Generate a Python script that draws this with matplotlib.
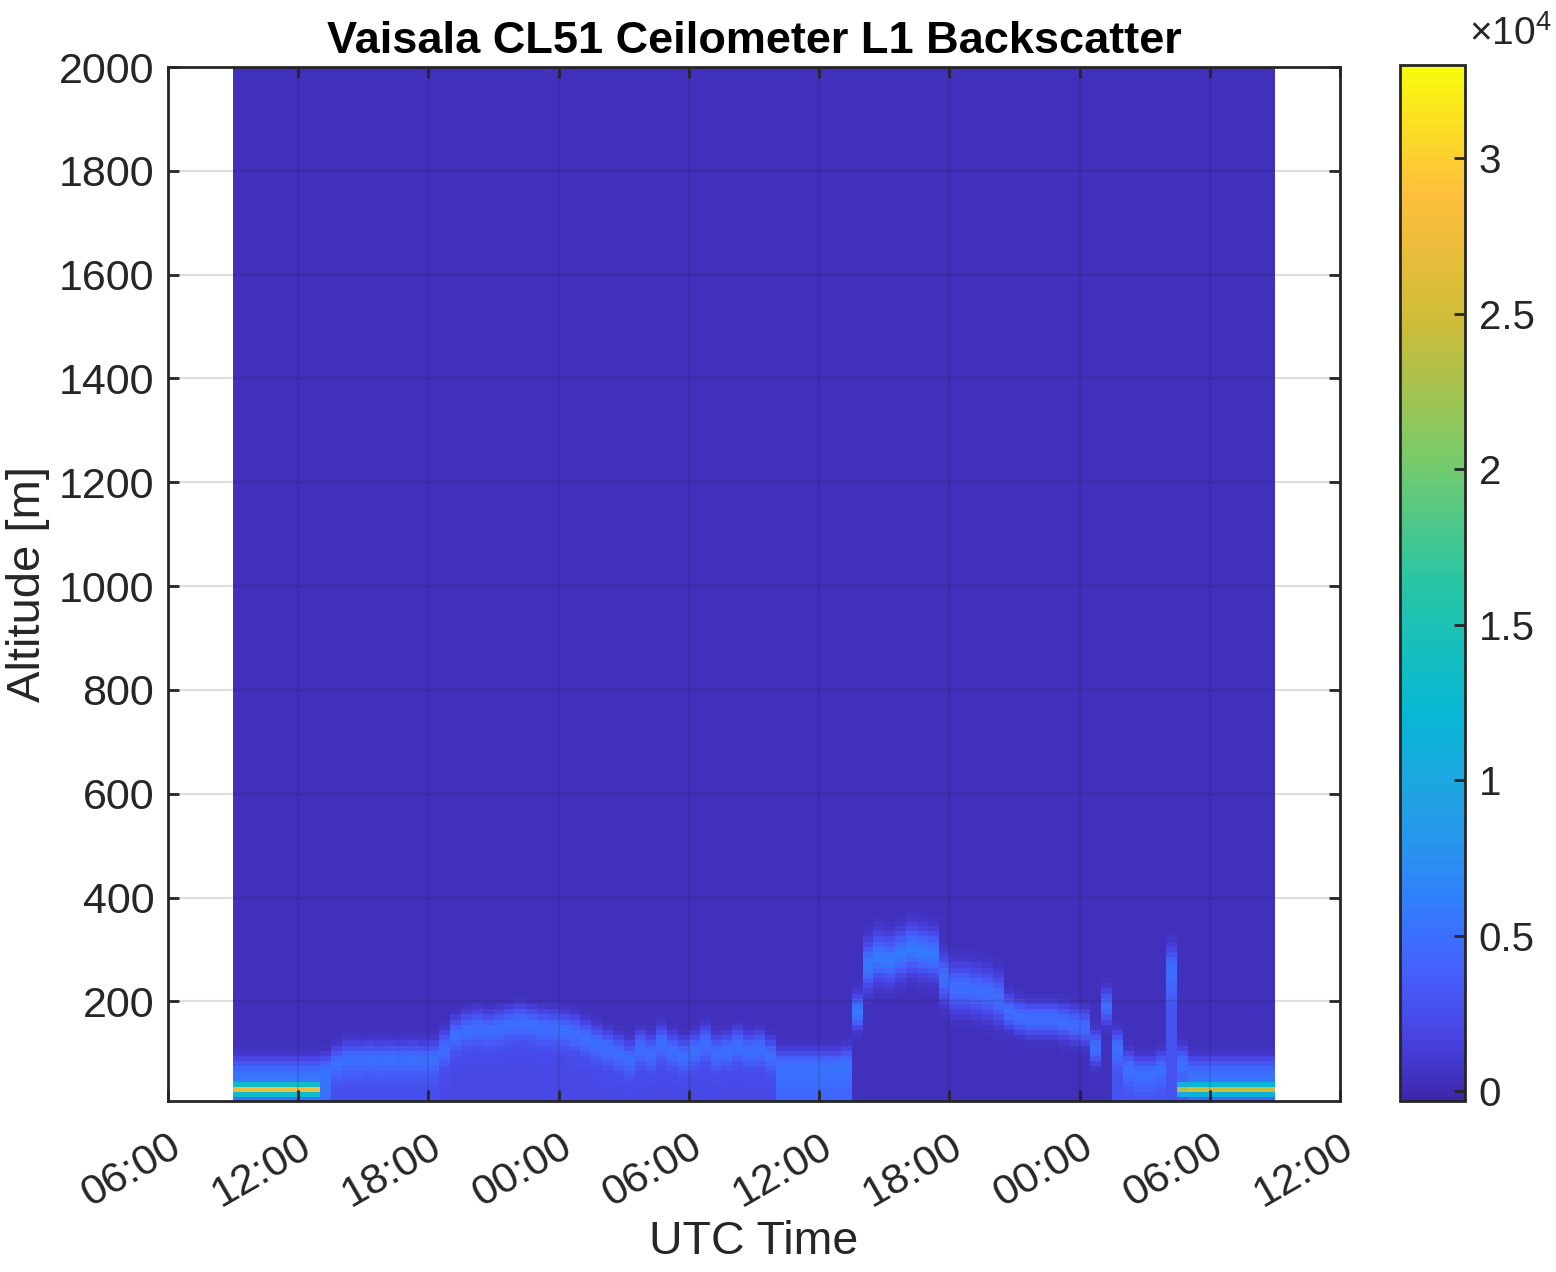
import numpy as np
import matplotlib
matplotlib.use("Agg")
import matplotlib.pyplot as plt
from matplotlib.colors import LinearSegmentedColormap

plt.rcParams['font.family'] = ['Liberation Sans', 'DejaVu Sans']
plt.rcParams['mathtext.fontset'] = 'custom'
plt.rcParams['mathtext.rm'] = 'Liberation Sans'

# --- data ---
# half-hour columns starting 09:00 on day 1 (hours since 06:00 day 1 = 3)
t_start = 3.0
t_step = 0.5

# height of the aerosol / boundary layer (m), one value per column
layer_h = [60, 60, 60, 60, 60, 60, 60, 60, 65, 80,
           88, 88, 90, 88, 90, 88, 90, 88, 90, 110,
           135, 145, 150, 145, 150, 155, 160, 155, 150, 148,
           145, 140, 130, 120, 110, 100, 90, 110, 100, 120,
           105, 95, 105, 120, 100, 105, 115, 105, 110, 95,
           75, 75, 75, 75, 75, 75, 80, 180, 270, 285,
           280, 290, 300, 295, 290, 245, 225, 225, 220, 215,
           205, 180, 170, 165, 165, 165, 160, 155, 150, 110,
           190, 110, 70, 60, 60, 70, 260, 80, 60, 60,
           60, 60, 60, 60, 60, 60]
# backscatter strength of the layer
layer_amp = [4500] * 57 + [5500] * 8 + [4500] * 31
# backscatter below the layer
below_amp = [4500] * 9 + [2200] * 10 + [1800] * 31 + [4000] * 7 + [0] * 24 + [2500] * 7 + [3500] * 8
# strong near-surface return (~30 m)
surf_amp = [22000] * 8 + [0] * 79 + [20000] * 9
background = 350

xtick_labels = ['06:00', '12:00', '18:00', '00:00', '06:00', '12:00', '18:00', '00:00', '06:00', '12:00']
ytick_vals = [200, 400, 600, 800, 1000, 1200, 1400, 1600, 1800, 2000]
cbar_ticks = [0, 5000, 10000, 15000, 20000, 25000, 30000]

# parula-like colormap
parula = LinearSegmentedColormap.from_list('parula', [
    (0.000, (0.2422, 0.1504, 0.6603)),
    (0.060, (0.2795, 0.2620, 0.8870)),
    (0.125, (0.2706, 0.3781, 0.9887)),
    (0.190, (0.1947, 0.4890, 0.9923)),
    (0.250, (0.1540, 0.5902, 0.9218)),
    (0.310, (0.1157, 0.6535, 0.8807)),
    (0.375, (0.0265, 0.7221, 0.8311)),
    (0.500, (0.1540, 0.7733, 0.6480)),
    (0.625, (0.4850, 0.7946, 0.4080)),
    (0.750, (0.8036, 0.7387, 0.2222)),
    (0.875, (0.9956, 0.7445, 0.2384)),
    (1.000, (0.9763, 0.9831, 0.0538)),
])

# build the 2-D field from the series
h = np.array(layer_h, float)
la = np.array(layer_amp, float)
ba = np.array(below_amp, float)
sa = np.array(surf_amp, float)
n = len(h)
z = np.arange(10, 2001, 10)[:, None]
t_edges = t_start + np.arange(n + 1) * t_step
z_edges = np.arange(5, 2006, 10)
w = np.where(h > 200, 28.0, 20.0)
field = (background
         + la * np.exp(-0.5 * ((z - h) / w) ** 2)
         + ba / (1 + np.exp((z - (h - w)) / 8.0))
         + sa * np.exp(-0.5 * ((z - 30) / 7.0) ** 2))

txt = '#262626'
fig = plt.figure(figsize=(15.56, 12.72), dpi=100)
ax = fig.add_axes([0.108, 0.1344, 0.7532, 0.8129])
cax = fig.add_axes([0.8997, 0.1344, 0.0418, 0.8145])

mesh = ax.pcolormesh(t_edges, z_edges, field, cmap=parula, vmin=-320, vmax=33000, shading='flat')
ax.set_xlim(0, 54)
ax.set_ylim(8, 2000)
ax.set_xticks(np.arange(0, 55, 6))
ax.set_xticklabels(xtick_labels, rotation=30, ha='right', rotation_mode='anchor')
ax.set_yticks(ytick_vals)
ax.set_axisbelow(False)
ax.grid(True, color=txt, alpha=0.15, linewidth=1.5)
ax.tick_params(direction='in', length=8, width=2, top=True, right=True,
               labelsize=31, colors=txt, pad=10)
ax.tick_params(axis='x', pad=18)
for s in ax.spines.values():
    s.set_linewidth(2)
    s.set_color(txt)
ax.set_xlabel('UTC Time', fontsize=33.5, color=txt, labelpad=4)
ax.set_ylabel('Altitude [m]', fontsize=34, color=txt, labelpad=6)
ax.set_title('Vaisala CL51 Ceilometer L1 Backscatter', fontsize=32.5, fontweight='bold', color='black', pad=10)

cb = fig.colorbar(mesh, cax=cax)
cb.set_ticks(cbar_ticks)
cb.set_ticklabels(['0', '0.5', '1', '1.5', '2', '2.5', '3'])
cb.outline.set_linewidth(2)
cb.outline.set_edgecolor(txt)
cax.tick_params(direction='in', length=8, width=2, labelsize=29, colors=txt, pad=10)
fig.text(0.944, 0.965, r'$\times\mathregular{10^4}$', fontsize=28, color=txt)

fig.savefig('out.png', dpi=100)
